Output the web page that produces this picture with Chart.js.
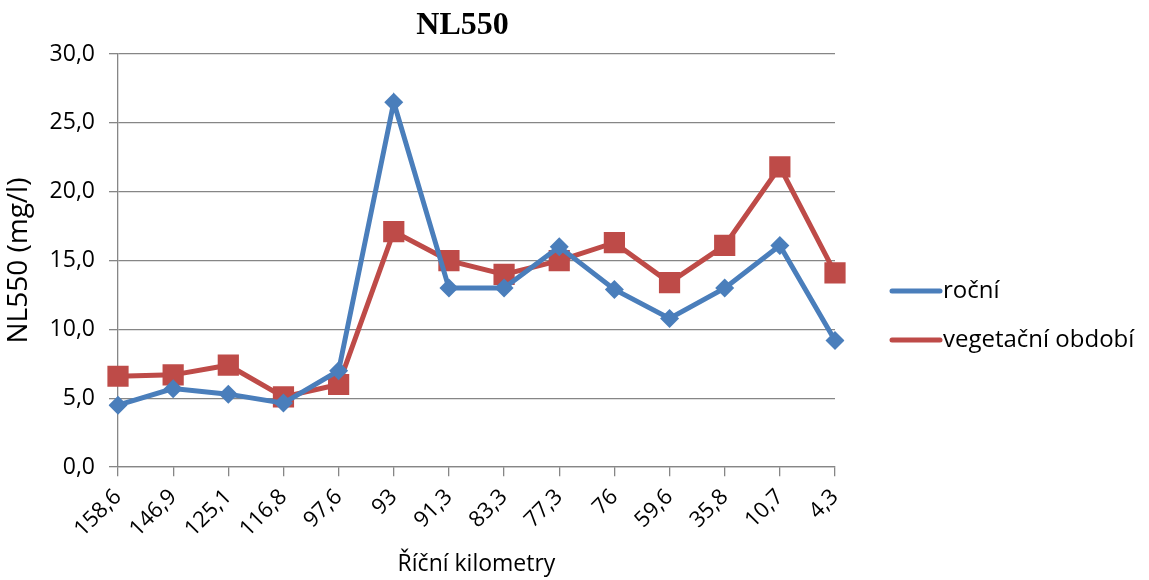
<!DOCTYPE html>
<html>
<head>
<meta charset="utf-8">
<script src="https://cdn.jsdelivr.net/npm/chart.js@4/dist/chart.umd.min.js"></script>
<style>
  html, body { margin: 0; padding: 0; background: #fff; }
  #wrap { width: 1149px; height: 580px; position: relative; }
</style>
</head>
<body>
<div id="wrap"><canvas id="chart"></canvas></div>
<script>
'use strict';

// data
const kilometers = ['158,6', '146,9', '125,1', '116,8', '97,6', '93', '91,3', '83,3', '77,3', '76', '59,6', '35,8', '10,7', '4,3'];
const rocni = [4.5, 5.7, 5.3, 4.65, 7.0, 26.5, 13.0, 13.0, 16.0, 12.9, 10.8, 13.0, 16.1, 9.2];
const vegetacni = [6.6, 6.7, 7.4, 5.1, 6.0, 17.1, 15.0, 14.0, 15.0, 16.3, 13.4, 16.1, 21.8, 14.1];
const yTicks = [0, 5, 10, 15, 20, 25, 30];
const chartTitle = 'NL550';

const BLUE = '#4A7EBB';
const RED = '#BE4B48';
const GRID = '#868686';
const SANS = "'Open Sans', 'Noto Sans', sans-serif";

const el = (id) => document.getElementById(id);
const fmtComma = v => v.toFixed(1).replace('.', ',');

// title sits a bit left of the plot centre, like in Excel
const topTitle = {
    id: 'topTitle',
    afterDraw(chart) {
        const ctx = chart.ctx;
        const a = chart.chartArea;
        ctx.save();
        ctx.fillStyle = '#000';
        ctx.font = "bold 32px 'Liberation Serif', serif";
        ctx.textAlign = 'center';
        ctx.textBaseline = 'middle';
        ctx.fillText(chartTitle, (a.left + a.right) / 2 - 14, a.top - 28);
        ctx.restore();
    }
};

// Excel-style legend: line with marker in the middle, text on its right
const sideLegend = {
    id: 'sideLegend',
    afterDraw(chart) {
        const ctx = chart.ctx;
        const x0 = chart.chartArea.right + 57;
        ctx.save();
        chart.data.datasets.forEach((ds, i) => {
            const y = 291 + i * 49;
            ctx.strokeStyle = ds.borderColor;
            ctx.lineWidth = 5;
            ctx.lineCap = 'round';
            ctx.beginPath();
            ctx.moveTo(x0, y);
            ctx.lineTo(x0 + 48, y);
            ctx.stroke();
            Chart.helpers.drawPoint(ctx, {
                pointStyle: ds.pointStyle,
                rotation: 0,
                borderWidth: 0
            }, x0 + 24, y, ds.pointStyle === 'rect' ? 14 : 9);
            ctx.fillStyle = ds.backgroundColor;
            ctx.fill();
            ctx.fillStyle = '#000';
            ctx.font = '24px ' + SANS;
            ctx.textBaseline = 'middle';
            ctx.textAlign = 'left';
            ctx.fillText(ds.label, x0 + 51, y);
        });
        ctx.restore();
    }
};

new Chart(el('chart'), {
    type: 'line',
    data: {
        labels: kilometers,
        datasets: [
            {
                label: 'roční',
                data: rocni,
                borderColor: BLUE,
                backgroundColor: BLUE,
                borderWidth: 5,
                pointStyle: 'rectRot',
                pointRadius: 9.5,
                pointBorderWidth: 0,
                tension: 0
            },
            {
                label: 'vegetační období',
                data: vegetacni,
                borderColor: RED,
                backgroundColor: RED,
                borderWidth: 5,
                pointStyle: 'rect',
                pointRadius: 15,
                pointBorderWidth: 0,
                tension: 0
            }
        ]
    },
    options: {
        responsive: true,
        maintainAspectRatio: false,
        animation: false,
        layout: { padding: { left: 2, right: 314, top: 54, bottom: 2 } },
        plugins: {
            legend: { display: false },
            tooltip: { enabled: false },
            title: { display: false }
        },
        scales: {
            x: {
                offset: false,
                grid: { drawOnChartArea: false, color: GRID, lineWidth: 1.3, tickLength: 9 },
                border: { color: GRID, width: 1.3 },
                ticks: {
                    color: '#000',
                    font: { family: SANS, size: 22 },
                    minRotation: 45,
                    maxRotation: 45,
                    autoSkip: false,
                    padding: 8
                },
                title: {
                    display: true,
                    text: 'Říční kilometry',
                    color: '#000',
                    font: { family: SANS, size: 23 },
                    padding: { top: 0, bottom: 0 }
                }
            },
            y: {
                min: yTicks[0],
                max: yTicks[yTicks.length - 1],
                afterBuildTicks: axis => { axis.ticks = yTicks.map(v => ({ value: v })); },
                grid: { color: GRID, lineWidth: 1.3, tickLength: 9 },
                border: { color: GRID, width: 1.3 },
                ticks: {
                    color: '#000',
                    font: { family: SANS, size: 23 },
                    padding: 14,
                    callback: v => fmtComma(v)
                },
                title: {
                    display: true,
                    text: 'NL550 (mg/l)',
                    color: '#000',
                    font: { family: SANS, size: 28 },
                    padding: { top: 0, bottom: 0 }
                }
            }
        }
    },
    plugins: [topTitle, sideLegend]
});
</script>
</body>
</html>
